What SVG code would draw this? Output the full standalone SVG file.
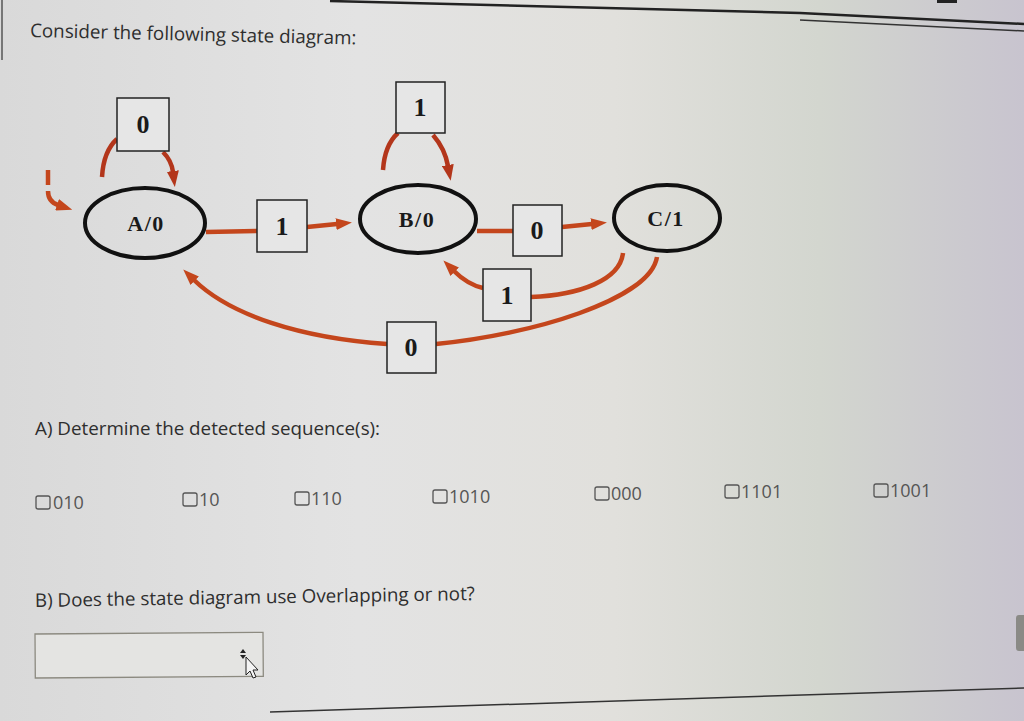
<svg xmlns="http://www.w3.org/2000/svg" width="1024" height="721" viewBox="0 0 1024 721">
<defs>
<linearGradient id="bg" x1="0" y1="0" x2="1" y2="0">
<stop offset="0" stop-color="#d9d9d9"/>
<stop offset="0.35" stop-color="#e3e3e3"/>
<stop offset="0.6" stop-color="#e1e0dc"/>
<stop offset="0.8" stop-color="#d3d6cf"/>
<stop offset="1" stop-color="#c8c4cf"/>
</linearGradient>
<marker id="ah" viewBox="0 0 16 12" markerWidth="16" markerHeight="12" refX="1" refY="6" orient="auto" markerUnits="userSpaceOnUse">
<path d="M0,0 L16,6 L0,12 z" fill="#c4461c"/>
</marker>
<marker id="ahd" viewBox="0 0 16 12" markerWidth="16" markerHeight="12" refX="1" refY="6" orient="auto" markerUnits="userSpaceOnUse">
<path d="M0,0 L16,6 L0,12 z" fill="#b3361b"/>
</marker>
</defs>
<style>
.ui{font-family:"Open Sans","Liberation Sans",sans-serif;fill:#2e2e2e;font-size:18.8px}
.opt{font-family:"Open Sans","Liberation Sans",sans-serif;fill:#555;font-size:18px}
.cb{fill:none;stroke:#555;stroke-width:1.3}
.state{fill:none;stroke:#111;stroke-width:4}
.sl{font-family:"Liberation Serif","Times New Roman",serif;font-weight:bold;font-size:22px;fill:#1a1a1a;text-anchor:middle;letter-spacing:1.5px}
.box{fill:#e6e6e6;stroke:#222;stroke-width:1.5}
.bl{font-family:"Liberation Serif","Times New Roman",serif;font-weight:bold;font-size:26px;fill:#1a1a1a;text-anchor:middle}
.edge{fill:none;stroke:#c4461c;stroke-width:4.5}
.loop{fill:none;stroke:#b3361b;stroke-width:4.5}
</style>
<rect width="1024" height="721" fill="url(#bg)"/>
<!-- page chrome -->
<path d="M330,1 L800,13 L1024,24" fill="none" stroke="#222" stroke-width="2.5"/>
<path d="M800,20 L1024,31" fill="none" stroke="#333" stroke-width="1.5"/>
<rect x="937" y="0" width="20" height="3" fill="#222"/>
<line x1="2" y1="0" x2="2" y2="60" stroke="#555" stroke-width="1.5"/>
<path d="M270,712 L1024,688" fill="none" stroke="#333" stroke-width="1.5"/>
<rect x="1016" y="615" width="10" height="36" rx="3" fill="#8a8a86"/>

<text class="ui" x="30" y="37" transform="rotate(1.3 30 37)">Consider the following state diagram:</text>

<!-- connectors -->
<g id="connectors">
<path class="loop" d="M102,177 C103,160 108,147 117,139"/>
<path class="loop" d="M163,152 C169,158 172,164 173,172" marker-end="url(#ahd)"/>
<path class="edge" d="M48,170 V185"/>
<path class="edge" d="M48,191 C48,198 52,203 58,205" marker-end="url(#ah)"/>
<path class="loop" d="M383,170 C384,155 389,141 398,133"/>
<path class="loop" d="M433,135 C440,143 446,155 448,166" marker-end="url(#ahd)"/>
<path class="edge" d="M206,232 L257,231"/>
<path class="edge" d="M307,227 L337,224" marker-end="url(#ah)"/>
<path class="edge" d="M477,231 L513,231"/>
<path class="edge" d="M562,227 L592,224" marker-end="url(#ah)"/>
<path class="edge" d="M623,253 C620,280 580,295 531,297"/>
<path class="edge" d="M483,288 C470,285 462,279 454,271" marker-end="url(#ah)"/>
<path class="edge" d="M657,257 C650,300 530,335 436,344"/>
<path class="edge" d="M387,344 C300,338 230,315 194,280" marker-end="url(#ah)"/>
</g>

<!-- states -->
<g id="A">
<ellipse class="state" cx="145" cy="223" rx="60" ry="35"/>
<text class="sl" x="146" y="231">A/0</text>
</g>
<g id="B">
<ellipse class="state" cx="418" cy="219" rx="58" ry="34"/>
<text class="sl" x="417" y="227">B/0</text>
</g>
<g id="C">
<ellipse class="state" cx="667" cy="218" rx="53" ry="33"/>
<text class="sl" x="666" y="226">C/1</text>
</g>

<!-- edge labels -->
<g id="lblA0"><rect class="box" x="117" y="98" width="52" height="53"/><text class="bl" x="143" y="133">0</text></g>
<g id="lblB1"><rect class="box" x="396" y="82" width="49" height="51"/><text class="bl" x="420" y="116">1</text></g>
<g id="lblAB"><rect class="box" x="257" y="200" width="50" height="52"/><text class="bl" x="282" y="235">1</text></g>
<g id="lblBC"><rect class="box" x="513" y="205" width="49" height="51"/><text class="bl" x="537" y="239">0</text></g>
<g id="lblCB"><rect class="box" x="483" y="269" width="48" height="52"/><text class="bl" x="507" y="304">1</text></g>
<g id="lblCA"><rect class="box" x="387" y="322" width="49" height="51"/><text class="bl" x="411" y="356">0</text></g>

<text class="ui" x="35" y="435">A) Determine the detected sequence(s):</text>

<g id="options">
<rect class="cb" x="36" y="496" width="14" height="13" rx="2"/><text class="opt" x="53" y="509">010</text>
<rect class="cb" x="183" y="493" width="14" height="13" rx="2"/><text class="opt" x="199" y="506">10</text>
<rect class="cb" x="295" y="492" width="14" height="13" rx="2"/><text class="opt" x="311" y="505">110</text>
<rect class="cb" x="433" y="490" width="14" height="13" rx="2"/><text class="opt" x="449" y="503">1010</text>
<rect class="cb" x="595" y="487" width="14" height="13" rx="2"/><text class="opt" x="611" y="500">000</text>
<rect class="cb" x="725" y="485" width="14" height="13" rx="2"/><text class="opt" x="741" y="498">1101</text>
<rect class="cb" x="874" y="484" width="14" height="13" rx="2"/><text class="opt" x="890" y="497">1001</text>
</g>

<text class="ui" x="35" y="607" transform="rotate(-0.9 35 607)">B) Does the state diagram use Overlapping or not?</text>

<rect x="35" y="634" width="228" height="44" fill="#e4e4e2" stroke="#8c8a80" stroke-width="1.3" transform="rotate(-0.4 35 634)"/>
<path d="M240,653 L243,649 L246,653 z M240,655 L246,655 L243,659 z" fill="#222"/>
<path d="M246,657 L246,675 L250,671 L253,678 L256,677 L253,670 L258,670 z" fill="#f4f4f4" stroke="#222" stroke-width="1"/>
</svg>
